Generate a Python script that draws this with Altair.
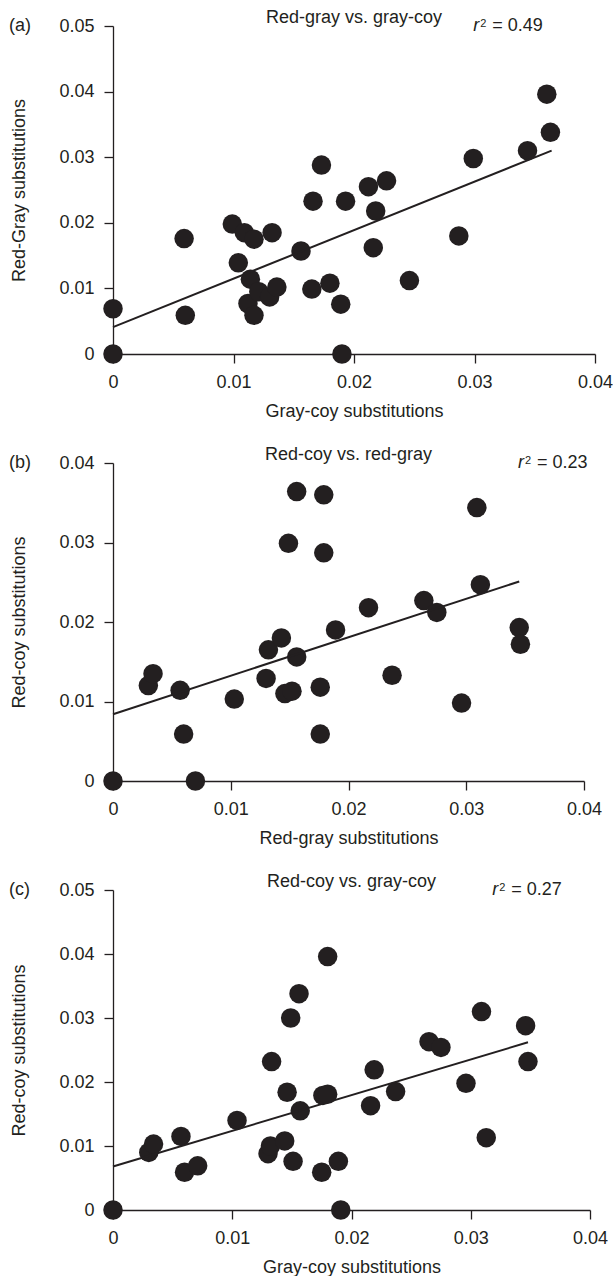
import altair as alt
import pandas as pd

# ---------------- data ----------------
# Panel (a): Red-gray vs. gray-coy
a_x = [0.0, 0.0, 0.0059, 0.0060, 0.0099, 0.0104, 0.0109, 0.0117, 0.0114, 0.0112,
       0.0117, 0.0121, 0.0130, 0.0136, 0.0132, 0.0156, 0.0165, 0.0166, 0.0173, 0.0180,
       0.0189, 0.0190, 0.0193, 0.0212, 0.0227, 0.0218, 0.0216, 0.0246, 0.0287, 0.0299,
       0.0344, 0.0360, 0.0363]
a_y = [0.0069, 0.0, 0.0176, 0.0059, 0.0198, 0.0139, 0.0185, 0.0175, 0.0114, 0.0077,
       0.0059, 0.0095, 0.0087, 0.0102, 0.0185, 0.0157, 0.0099, 0.0233, 0.0288, 0.0108,
       0.0076, 0.0, 0.0233, 0.0255, 0.0264, 0.0218, 0.0162, 0.0112, 0.0180, 0.0298,
       0.0310, 0.0396, 0.0338]
a_line_x = [0.0, 0.0364]
a_line_y = [0.0041, 0.0310]

# Panel (b): Red-coy vs. red-gray
b_x = [0.0, 0.0070, 0.0030, 0.0034, 0.0057, 0.0060, 0.0103, 0.0130, 0.0132, 0.0143,
       0.0146, 0.0152, 0.0156, 0.0149, 0.0156, 0.0179, 0.0179, 0.0176, 0.0176, 0.0189,
       0.0217, 0.0237, 0.0264, 0.0275, 0.0296, 0.0309, 0.0312, 0.0345, 0.0346]
b_y = [0.0, 0.0, 0.0120, 0.0135, 0.0114, 0.0059, 0.0103, 0.0129, 0.0165, 0.0180,
       0.0110, 0.0113, 0.0156, 0.0299, 0.0364, 0.0360, 0.0287, 0.0118, 0.0059, 0.0190,
       0.0218, 0.0133, 0.0227, 0.0212, 0.0098, 0.0344, 0.0247, 0.0193, 0.0172]
b_line_x = [0.0, 0.0345]
b_line_y = [0.0084, 0.0251]

# Panel (c): Red-coy vs. gray-coy
c_x = [0.0, 0.0191, 0.0030, 0.0034, 0.0057, 0.0060, 0.0071, 0.0104, 0.0130, 0.0132,
       0.0144, 0.0133, 0.0146, 0.0151, 0.0149, 0.0156, 0.0157, 0.0175, 0.0176, 0.0180,
       0.0180, 0.0189, 0.0216, 0.0219, 0.0237, 0.0265, 0.0275, 0.0296, 0.0309, 0.0313,
       0.0346, 0.0348]
c_y = [0.0, 0.0, 0.0090, 0.0103, 0.0115, 0.0059, 0.0069, 0.0140, 0.0088, 0.0100,
       0.0108, 0.0232, 0.0184, 0.0076, 0.0300, 0.0338, 0.0155, 0.0059, 0.0179, 0.0181,
       0.0396, 0.0076, 0.0163, 0.0219, 0.0185, 0.0263, 0.0254, 0.0198, 0.0310, 0.0113,
       0.0288, 0.0232]
c_line_x = [0.0, 0.0348]
c_line_y = [0.0068, 0.0262]

x_ticks = [0, 0.01, 0.02, 0.03, 0.04]
y_ticks_05 = [0, 0.01, 0.02, 0.03, 0.04, 0.05]
y_ticks_04 = [0, 0.01, 0.02, 0.03, 0.04]

INK = "#231f20"
FONT = "Liberation Sans"
FS = 18


def panel(xs, ys, lx, ly, xtitle, ytitle, ymax, yticks, title, letter, r2, r2x, w, h):
    pts = pd.DataFrame({"x": xs, "y": ys})
    line = pd.DataFrame({"x": lx, "y": ly})
    ann = pd.DataFrame({"x": [0.02], "y": [ymax], "t": [title]})
    r2d = pd.DataFrame({"x": [r2x], "y": [ymax], "r": ["r"], "s": ["2"], "v": ["= " + r2]})

    points = alt.Chart(pts).mark_circle(size=380, color=INK, opacity=1)
    fit = alt.Chart(line).mark_line(color=INK, strokeWidth=2)
    title_mark = alt.Chart(ann).mark_text(
        font=FONT, fontSize=FS, color=INK, align="center", baseline="alphabetic", dy=-3
    ).encode(text="t:N")
    r_mark = alt.Chart(r2d).mark_text(
        font=FONT, fontSize=FS, fontStyle="italic", color=INK, align="left",
        baseline="alphabetic", dy=5
    ).encode(text="r:N")
    s_mark = alt.Chart(r2d).mark_text(
        font=FONT, fontSize=11, color=INK, align="left", baseline="alphabetic", dx=7, dy=0.5
    ).encode(text="s:N")
    v_mark = alt.Chart(r2d).mark_text(
        font=FONT, fontSize=FS, color=INK, align="left", baseline="alphabetic", dx=19, dy=5
    ).encode(text="v:N")
    let = alt.Chart(pd.DataFrame({"t": [letter]})).mark_text(
        font=FONT, fontSize=FS, color=INK, align="left", baseline="middle"
    ).encode(x=alt.value(-104), y=alt.value(0), text="t:N")

    return alt.layer(points, fit, title_mark, r_mark, s_mark, v_mark, let).encode(
        x=alt.X("x:Q", scale=alt.Scale(domain=[0, 0.04], nice=False, zero=False),
                axis=alt.Axis(values=x_ticks, format=".2~f", title=xtitle,
                              labelFlush=False, labelOverlap=False, titlePadding=11)),
        y=alt.Y("y:Q", scale=alt.Scale(domain=[0, ymax], nice=False, zero=False),
                axis=alt.Axis(values=yticks, format=".2~f", title=ytitle,
                              labelOverlap=False, titlePadding=30)),
    ).properties(width=w, height=h)


pa = panel(a_x, a_y, a_line_x, a_line_y, "Gray-coy substitutions", "Red-Gray substitutions",
           0.05, y_ticks_05, "Red-gray vs. gray-coy", "(a)", "0.49", 0.0299, 482, 328)
pb = panel(b_x, b_y, b_line_x, b_line_y, "Red-gray substitutions", "Red-coy substitutions",
           0.04, y_ticks_04, "Red-coy vs. red-gray", "(b)", "0.23", 0.0344, 471, 318)
pc = panel(c_x, c_y, c_line_x, c_line_y, "Gray-coy substitutions", "Red-coy substitutions",
           0.05, y_ticks_05, "Red-coy vs. gray-coy", "(c)", "0.27", 0.0318, 477, 320)

chart = alt.vconcat(pa, pb, pc, spacing=26).properties(
    padding={"left": 9, "top": 9, "right": 0, "bottom": 0},
    background="white",
).configure_view(stroke=None).configure_axis(
    grid=False,
    domainColor=INK, domainWidth=1.3,
    tickColor=INK, tickWidth=1.3, tickSize=9,
    labelFont=FONT, labelFontSize=FS, labelColor=INK, labelPadding=10,
    titleFont=FONT, titleFontSize=FS, titleColor=INK, titleFontWeight="normal",
)

chart.save("out.html", embed_options={"renderer": "svg", "actions": False})
